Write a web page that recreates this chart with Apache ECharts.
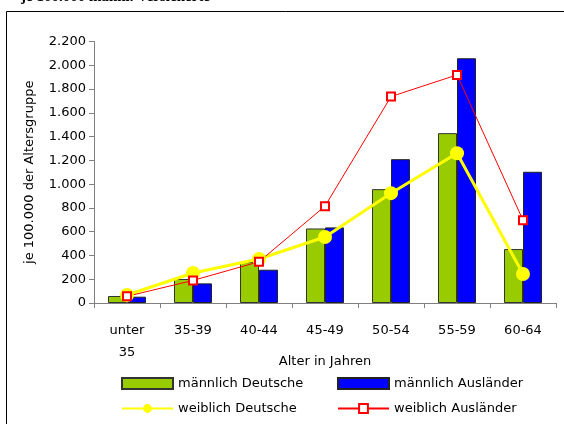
<!DOCTYPE html>
<html>
<head>
<meta charset="utf-8">
<script src="https://cdn.jsdelivr.net/npm/echarts@6/dist/echarts.min.js"></script>
<style>
  html, body { margin: 0; padding: 0; background: #fff; }
  #chart { width: 564px; height: 424px; }
</style>
</head>
<body>
<div id="chart"></div>
<script>
// Altersgruppen und Werte je 100.000 der Altersgruppe
const categories = ['unter\n35', '35-39', '40-44', '45-49', '50-54', '55-59', '60-64']
const maleGerman = [59, 202, 344, 627, 958, 1429, 454]
const maleForeign = [53, 165, 280, 636, 1210, 2059, 1104]
const femaleGerman = [67, 252, 370, 555, 924, 1260, 244]
const femaleForeign = [56, 190, 347, 815, 1737, 1919, 697]
const yTicks = { min: 0, max: 2200, interval: 200 }

const font = '"DejaVu Sans", Arial, sans-serif'
const fmt = v => String(v).replace(/\B(?=(\d{3})+(?!\d))/g, '.')

const chart = echarts.init(document.getElementById('chart'))

const legendText = { fontFamily: font, fontSize: 13, color: '#000' }

chart.setOption({
  animation: false,
  textStyle: { fontFamily: font, color: '#000' },
  graphic: [
    {
      type: 'text',
      left: 21,
      top: -10,
      style: {
        text: 'je 100.000 männl. Versicherte',
        font: 'bold 15px "Liberation Serif", serif',
        fill: '#000'
      }
    },
    {
      type: 'rect',
      shape: { x: 6.5, y: 11.5, width: 600, height: 500 },
      style: { fill: 'none', stroke: '#000', lineWidth: 1 }
    }
  ],
  grid: {
    left: 94,
    right: 8,
    top: 41.5,
    bottom: 121
  },
  legend: [
    {
      orient: 'vertical',
      left: 116,
      top: 372,
      itemWidth: 51,
      itemHeight: 11,
      itemGap: 12,
      textStyle: legendText,
      data: [{ name: 'männlich Deutsche', icon: 'rect' }, 'weiblich Deutsche']
    },
    {
      orient: 'vertical',
      left: 332,
      top: 372,
      itemWidth: 51,
      itemHeight: 11,
      itemGap: 12,
      textStyle: legendText,
      data: [{ name: 'männlich Ausländer', icon: 'rect' }, 'weiblich Ausländer']
    }
  ],
  xAxis: {
    type: 'category',
    data: categories,
    name: 'Alter in Jahren',
    nameLocation: 'middle',
    nameGap: 52,
    nameMoveOverlap: false,
    nameTextStyle: { fontFamily: font, fontSize: 13, color: '#000' },
    axisLine: { lineStyle: { color: '#808080', width: 1 } },
    axisTick: { show: true, length: 5, lineStyle: { color: '#808080' } },
    axisLabel: {
      fontFamily: font,
      fontSize: 13,
      color: '#000',
      margin: 17,
      lineHeight: 22,
      interval: 0
    }
  },
  yAxis: {
    type: 'value',
    min: yTicks.min,
    max: yTicks.max,
    interval: yTicks.interval,
    name: 'je 100.000 der Altersgruppe',
    nameLocation: 'middle',
    nameGap: 58,
    nameMoveOverlap: false,
    nameTextStyle: { fontFamily: font, fontSize: 13, color: '#000' },
    axisLine: { show: true, lineStyle: { color: '#808080', width: 1 } },
    axisTick: { show: true, length: 5, lineStyle: { color: '#808080' } },
    splitLine: { show: false },
    axisLabel: {
      fontFamily: font,
      fontSize: 13,
      color: '#000',
      margin: 8,
      formatter: fmt
    }
  },
  series: [
    {
      name: 'männlich Deutsche',
      type: 'bar',
      data: maleGerman,
      barWidth: 19,
      barGap: '0%',
      itemStyle: { color: '#99CC00', borderColor: '#333', borderWidth: 1 }
    },
    {
      name: 'männlich Ausländer',
      type: 'bar',
      data: maleForeign,
      barWidth: 19,
      barGap: '0%',
      itemStyle: { color: '#0000FF', borderColor: '#222', borderWidth: 1 }
    },
    {
      name: 'weiblich Deutsche',
      type: 'line',
      data: femaleGerman,
      symbol: 'circle',
      symbolSize: 14,
      lineStyle: { color: '#FFFF00', width: 3 },
      itemStyle: { color: '#FFFF00' }
    },
    {
      name: 'weiblich Ausländer',
      type: 'line',
      data: femaleForeign,
      symbol: 'rect',
      symbolSize: 8,
      lineStyle: { color: '#FF0000', width: 1 },
      itemStyle: { color: '#fff', borderColor: '#FF0000', borderWidth: 2 }
    }
  ]
})
</script>
</body>
</html>
